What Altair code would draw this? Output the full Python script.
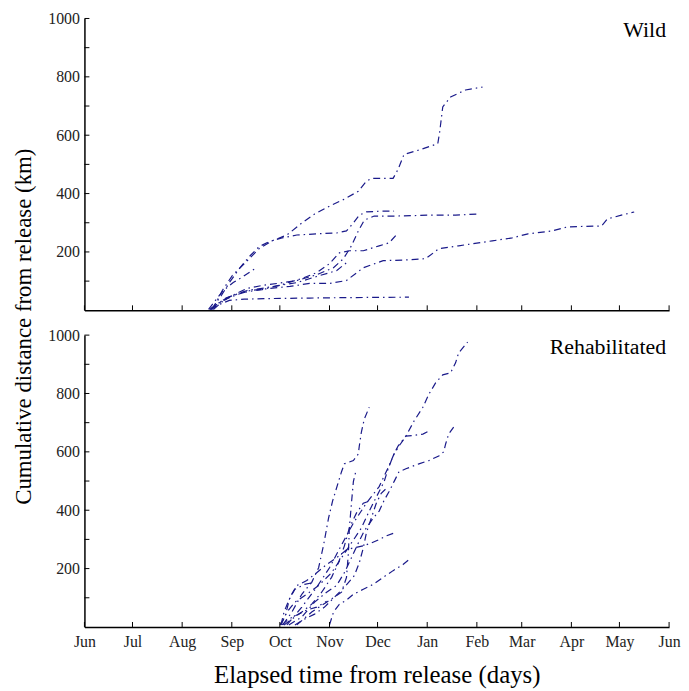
import altair as alt
import pandas as pd

START = pd.Timestamp("2009-06-01")
FONT = "Liberation Serif"
LINE_COLOR = "#1a1a8a"

# ---- Wild tracks: days since 1 June, cumulative km ----
w1_days = [79.9, 86.1, 92.3, 100.4, 109.0, 117.1, 126.4, 135.7, 143.7, 153.0, 162.3, 171.0, 176.0, 179.1, 192.7, 195.8, 199.5, 210.0, 220.6, 221.8, 223.7, 228.6, 237.9, 248.5]
w1_km = [3, 68, 119, 163, 211, 238, 258, 299, 330, 357, 381, 408, 442, 452, 452, 483, 534, 551, 571, 612, 697, 731, 755, 765]
w2_days = [79.3, 85.5, 90.5, 96.7, 102.9, 109.0, 115.2, 123.3, 132.6, 145.0, 157.4, 163.6, 167.9, 171.6, 176.0, 185.3, 193.3]
w2_km = [3, 51, 95, 143, 184, 218, 235, 248, 258, 262, 265, 272, 299, 326, 337, 340, 340]
w3_days = [78.7, 84.3, 92.3, 101.6, 110.9, 120.2, 132.6, 145.0, 155.5, 161.7, 166.7, 171.0, 174.7, 180.9, 194.5, 215.0, 231.7, 245.4]
w3_km = [3, 24, 51, 75, 85, 92, 102, 122, 146, 177, 221, 272, 309, 323, 323, 326, 326, 330]
w4_days = [78.1, 86.1, 95.4, 103.5, 115.9, 128.3, 140.6, 153.0, 163.6, 174.1, 186.5, 202.6, 213.1, 221.2, 233.6, 254.6, 267.0, 276.9, 291.8, 301.7, 322.8, 326.5, 335.2, 343.2]
w4_km = [3, 34, 54, 68, 75, 82, 92, 92, 102, 146, 170, 173, 177, 211, 221, 238, 248, 262, 272, 286, 289, 313, 326, 337]
w5_days = [78.7, 84.3, 90.5, 99.8, 112.1, 126.4, 140.6, 155.5, 174.1, 202.6]
w5_km = [3, 20, 34, 38, 40, 41, 42, 43, 44, 45]
w6_days = [79.3, 88.0, 98.5, 110.9, 123.3, 135.7, 145.0, 153.0, 159.2, 165.4, 174.1, 184.0, 190.2, 195.8]
w6_km = [7, 41, 61, 71, 88, 109, 129, 160, 197, 204, 204, 221, 231, 265]
w7_days = [80.5, 89.2, 101.6, 114.0, 132.6, 145.0, 157.4, 163.6]
w7_km = [3, 44, 68, 78, 95, 116, 136, 163]
w8_days = [77.5, 81.8, 86.7, 92.9, 99.1, 106.5]
w8_km = [3, 34, 68, 95, 116, 143]

# ---- Rehabilitated tracks ----
r1_days = [126.4, 135.7, 145.0, 153.0, 160.5, 167.9, 176.0, 184.0, 190.2, 193.3, 196.4, 200.7, 205.7, 211.3, 215.0, 219.3, 223.7, 228.6, 231.7, 233.6, 239.2]
r1_km = [7, 68, 136, 203, 281, 356, 424, 481, 553, 593, 620, 654, 705, 753, 797, 837, 864, 871, 905, 939, 976]
r2_days = [123.9, 129.5, 135.7, 141.9, 146.2, 149.3, 152.4, 154.9, 158.6, 160.5, 162.3, 167.9, 171.0, 171.6, 172.9, 174.7, 177.8]
r2_km = [7, 51, 112, 153, 203, 281, 373, 431, 498, 532, 559, 570, 593, 620, 668, 712, 753]
r3_days = [132.6, 141.9, 151.2, 160.5, 163.6, 164.8, 165.4, 166.7, 167.9, 169.8]
r3_km = [7, 51, 85, 119, 170, 254, 339, 424, 498, 542]
r4_days = [127.6, 135.7, 143.7, 151.2, 157.4, 162.3, 166.7, 171.0, 174.7, 180.3, 184.0, 187.1, 190.2, 193.3, 196.4, 200.7, 208.8, 215.0, 221.2, 224.3, 225.5, 227.4, 230.5]
r4_km = [7, 34, 85, 119, 142, 186, 237, 288, 329, 373, 397, 434, 464, 498, 532, 542, 559, 570, 586, 600, 627, 661, 685]
r5_days = [122.7, 126.4, 131.4, 138.8, 146.2, 154.3, 160.5, 166.7, 172.9, 177.2, 180.9, 184.0, 187.1, 189.6, 192.7, 195.8, 200.7, 205.1, 211.3, 215.0]
r5_km = [7, 51, 85, 112, 142, 186, 237, 288, 339, 390, 431, 464, 498, 542, 586, 620, 654, 656, 661, 671]
r6_days = [122.1, 125.2, 128.3, 132.6, 138.8, 145.0, 151.2, 157.4, 163.6, 167.9, 174.1, 179.1, 183.4, 188.4, 193.3]
r6_km = [7, 34, 102, 142, 159, 186, 214, 237, 264, 271, 278, 288, 298, 312, 322]
r7_days = [153.0, 155.5, 159.2, 163.6, 167.9, 174.1, 180.3, 186.5, 192.7, 198.9, 202.6]
r7_km = [7, 51, 78, 92, 112, 129, 146, 170, 193, 214, 231]
r8_days = [124.6, 129.5, 135.7, 141.9, 148.1, 154.3, 158.6, 162.3, 165.4, 169.8, 174.1, 179.1]
r8_km = [7, 27, 51, 78, 119, 170, 220, 278, 339, 390, 424, 434]
r9_days = [131.4, 137.5, 143.7, 149.9, 156.1, 162.3, 168.5, 171.6, 174.1, 176.0, 179.1, 182.2, 185.3, 189.6]
r9_km = [7, 27, 44, 68, 102, 136, 176, 220, 271, 322, 373, 424, 458, 481]
r10_days = [122.7, 124.6, 127.6, 131.4, 137.5, 143.7]
r10_km = [7, 51, 92, 129, 146, 153]
r11_days = [123.3, 127.6, 132.6, 138.8, 145.0, 151.2]
r11_km = [7, 27, 41, 58, 68, 88]

panel_names = ["Wild", "Rehabilitated"]
month_ticks = [(2009, m) for m in range(6, 13)] + [(2010, m) for m in range(1, 7)]
y_ticks = [100, 200, 300, 400, 500, 600, 700, 800, 900, 1000]

wild_tracks = [(w1_days, w1_km), (w2_days, w2_km), (w3_days, w3_km), (w4_days, w4_km),
               (w5_days, w5_km), (w6_days, w6_km), (w7_days, w7_km), (w8_days, w8_km)]
rehab_tracks = [(r1_days, r1_km), (r2_days, r2_km), (r3_days, r3_km), (r4_days, r4_km),
                (r5_days, r5_km), (r6_days, r6_km), (r7_days, r7_km), (r8_days, r8_km),
                (r9_days, r9_km), (r10_days, r10_km), (r11_days, r11_km)]


def build_df(tracks):
    rows = []
    for t, (ds, ks) in enumerate(tracks):
        for i, (d, k) in enumerate(zip(ds, ks)):
            rows.append({"track": t, "i": i,
                         "date": START + pd.to_timedelta(d, unit="D"), "km": k})
    return pd.DataFrame(rows)


W, H = 589, 294
x_domain = [alt.DateTime(year=2009, month=6, date=1), alt.DateTime(year=2010, month=6, date=1)]
tick_dts = [alt.DateTime(year=y, month=m, date=1) for y, m in month_ticks]
xtick_df = pd.DataFrame({"date": [pd.Timestamp(year=y, month=m, day=1) for y, m in month_ticks]})
ytick_df = pd.DataFrame({"v": y_ticks})


def panel(name, tracks, bottom):
    df = build_df(tracks)
    xaxis = alt.Axis(values=tick_dts, format="%b", ticks=False, labels=bottom,
                     title="Elapsed time from release (days)" if bottom else None,
                     labelOverlap=False, labelFlush=False, labelPadding=7,
                     labelFontSize=16, titleFontSize=25, titlePadding=13,
                     titleFontWeight="normal",
                     domainColor="black", domainWidth=1.5, grid=False)
    common_y = dict(values=y_ticks, ticks=False, grid=False, format="d",
                    labelExpr="datum.value % 200 == 0 ? datum.label : ''",
                    labelOverlap=False, labelFlush=False,
                    labelFontSize=16, labelPadding=5,
                    domainColor="black", domainWidth=1.5)
    if bottom:
        yaxis = alt.Axis(title=None, **common_y)
    else:
        yaxis = alt.Axis(title="Cumulative distance from release (km)",
                         titleFontSize=23, titleFontWeight="normal", titleY=H + 16,
                         titlePadding=12, **common_y)
    xs = alt.Scale(domain=x_domain)
    ys = alt.Scale(domain=[0, 1000])
    lines = alt.Chart(df).mark_line(strokeWidth=1.2, strokeDash=[7, 4, 1.5, 4],
                                    color=LINE_COLOR).encode(
        x=alt.X("date:T", scale=xs, axis=xaxis),
        y=alt.Y("km:Q", scale=ys, axis=yaxis),
        detail="track:N",
        order="i:Q",
    )
    xt = alt.Chart(xtick_df).mark_rule(color="black", strokeWidth=1).encode(
        x=alt.X("date:T", scale=xs, axis=xaxis), y=alt.value(H), y2=alt.value(H - 5))
    yt = alt.Chart(ytick_df).mark_rule(color="black", strokeWidth=1).encode(
        y=alt.Y("v:Q", scale=ys, axis=yaxis), x=alt.value(0), x2=alt.value(5))
    lab = alt.Chart(pd.DataFrame({"label": [name]})).mark_text(
        align="right", baseline="middle", fontSize=22, font=FONT, color="black").encode(
        text="label:N", x=alt.value(W - 3), y=alt.value(12))
    return alt.layer(lines, xt, yt, lab).properties(width=W, height=H)


top = panel(panel_names[0], wild_tracks, False)
bot = panel(panel_names[1], rehab_tracks, True)

chart = alt.VConcatChart(vconcat=[top, bot], spacing=25, bounds="flush").properties(
    padding={"left": 5, "right": 0, "top": 0, "bottom": 5}
).configure_view(stroke=None).configure_axis(
    labelFont=FONT, titleFont=FONT, labelColor="#222", titleColor="black"
)

chart.save("out.html", embed_options={"renderer": "svg", "actions": False})
